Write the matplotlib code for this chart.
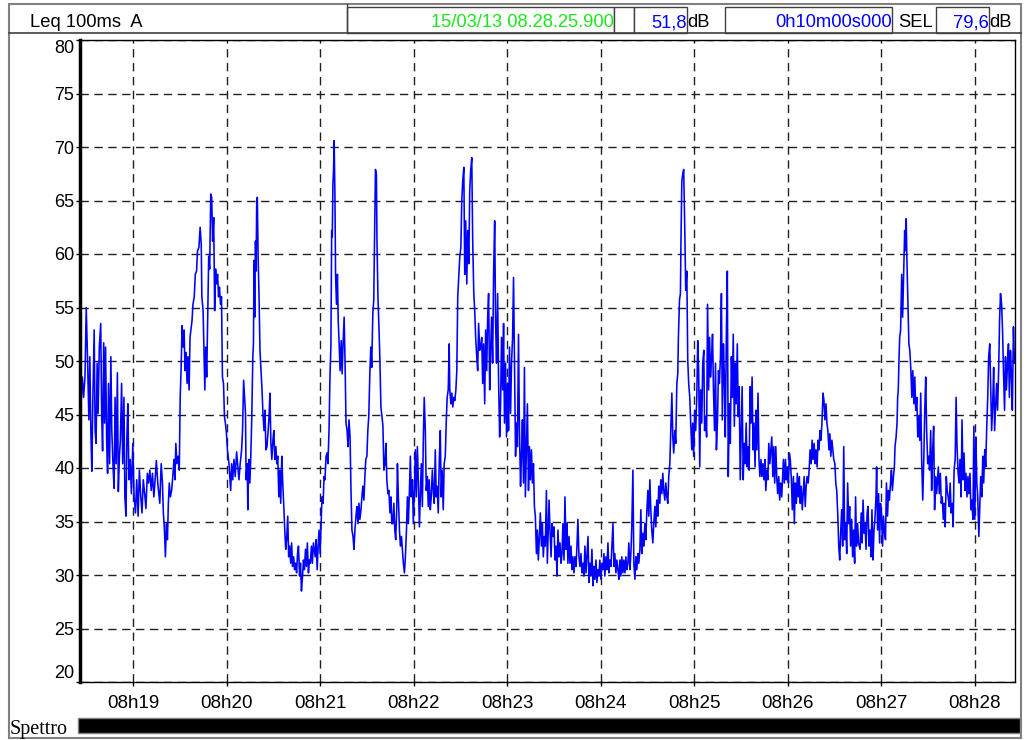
import matplotlib
matplotlib.use("Agg")
import matplotlib.pyplot as plt
from matplotlib.patches import Rectangle

# header values of the logger screen
title = "Leq 100ms  A"
end_stamp = "15/03/13 08.28.25.900"
leq_total = "51,8"
duration = "0h10m00s000"
sel_total = "79,6"
band_label = "Spettro"

# record start 08:18:25.9 -> seconds after 08h00
start_sec = 18 * 60 + 25.9
minute_labels = ["08h19", "08h20", "08h21", "08h22", "08h23",
                 "08h24", "08h25", "08h26", "08h27", "08h28"]
y_ticks = [20, 25, 30, 35, 40, 45, 50, 55, 60, 65, 70, 75, 80]

# (seconds from start, Leq dB(A))
readings = [
    (0.0, 44.2), (1.5, 48.5), (2.3, 46.6), (3.2, 48.5), (4.0, 55.0), (4.8, 50.4), (5.7, 44.5), (6.3, 50.4),
    (7.0, 43.2), (7.6, 39.7), (8.2, 46.0), (9.1, 52.9), (9.7, 43.5), (10.3, 42.3), (11.0, 49.8), (11.6, 45.1),
    (12.4, 51.3), (13.3, 53.5), (13.9, 45.1), (14.5, 41.6), (15.2, 51.7), (15.8, 44.2), (16.4, 51.3), (17.1, 42.6),
    (17.7, 39.5), (18.3, 47.9), (19.0, 40.4), (19.8, 50.4), (20.4, 43.5), (21.3, 39.8), (21.9, 38.1), (22.5, 46.6),
    (23.2, 40.4), (24.0, 48.9), (24.6, 37.8), (25.3, 41.1), (25.9, 42.6), (26.7, 47.9), (27.4, 40.4), (28.2, 46.6),
    (28.8, 37.3), (29.5, 35.5), (30.1, 42.9), (30.7, 46.0), (31.4, 38.9), (32.2, 40.8), (33.0, 37.6), (33.9, 42.3),
    (34.7, 37.3), (35.6, 35.8), (36.4, 38.9), (37.3, 35.5), (38.1, 39.8), (39.0, 37.3), (39.8, 35.8), (40.6, 38.9),
    (41.5, 37.6), (42.3, 36.2), (43.2, 39.5), (44.0, 38.6), (44.8, 39.8), (45.7, 37.9), (46.5, 39.5), (47.4, 37.3),
    (48.2, 38.9), (49.0, 40.7), (49.9, 38.6), (51.2, 36.7), (52.1, 40.4), (52.9, 38.6), (53.5, 35.8), (54.2, 34.2),
    (54.8, 31.7), (55.5, 34.8), (56.1, 33.3), (56.7, 36.7), (57.3, 38.6), (58.0, 37.3), (58.8, 37.9), (59.7, 39.5),
    (60.3, 40.8), (60.9, 38.9), (61.5, 42.3), (62.2, 40.4), (63.0, 41.1), (63.7, 39.8), (64.3, 46.6), (64.9, 49.4),
    (65.5, 53.3), (66.2, 51.3), (66.8, 52.9), (67.4, 49.1), (68.1, 50.8), (68.7, 47.9), (69.3, 50.4), (70.0, 47.3),
    (70.6, 52.2), (71.2, 52.9), (71.9, 53.8), (72.5, 55.3), (73.3, 56.0), (74.0, 58.1), (74.8, 58.4), (75.4, 60.3),
    (76.3, 60.6), (77.1, 62.5), (77.8, 60.9), (78.2, 56.0), (79.0, 54.7), (79.7, 49.8), (80.1, 47.3), (80.7, 51.3),
    (81.3, 48.5), (82.0, 54.7), (82.6, 59.8), (83.2, 58.6), (83.9, 65.6), (84.5, 65.3), (85.1, 61.2), (85.8, 63.4),
    (86.4, 54.7), (87.0, 58.6), (87.6, 57.2), (88.3, 58.1), (88.9, 56.0), (89.5, 56.9), (90.2, 55.3), (90.8, 56.0),
    (91.4, 48.5), (92.1, 47.9), (92.7, 44.8), (93.3, 44.2), (94.0, 43.2), (94.6, 41.7), (95.6, 40.4), (96.7, 37.9),
    (97.3, 40.4), (98.0, 38.9), (98.8, 40.8), (99.6, 39.2), (100.5, 41.5),
    (102.0, 38.9), (102.8, 40.4), (103.7, 41.7), (104.3, 43.5), (105.0, 48.2), (105.6, 46.6), (106.2, 45.1),
    (106.6, 38.9), (107.3, 40.4), (107.7, 36.1), (108.3, 40.8), (109.0, 38.6), (109.6, 41.1), (110.2, 44.5),
    (110.9, 50.4), (111.3, 51.6), (111.7, 59.4), (112.1, 54.1), (112.6, 61.2), (113.0, 58.4), (113.4, 65.0),
    (113.8, 65.3), (114.3, 59.7), (114.9, 56.0), (115.5, 51.0), (116.2, 49.1), (116.8, 47.3), (117.4, 45.1),
    (118.1, 43.5), (118.7, 45.4), (119.3, 41.7), (120.0, 42.0), (120.6, 43.2), (121.2, 44.5), (121.9, 47.0),
    (122.5, 42.3), (123.1, 40.8), (123.8, 42.6), (124.4, 43.5), (125.0, 40.8), (125.7, 42.0), (126.3, 40.4),
    (126.9, 41.1), (127.6, 37.3), (128.2, 39.8), (128.8, 36.7), (129.5, 41.1), (130.1, 38.6), (130.7, 36.7),
    (131.4, 34.2), (132.0, 32.4), (132.6, 33.3), (133.3, 35.5), (133.9, 31.7), (134.5, 32.7), (135.2, 31.1),
    (135.8, 33.0), (136.4, 30.8), (137.1, 31.7), (137.7, 30.5), (138.3, 31.1), (139.0, 30.2), (139.6, 32.0),
    (140.2, 32.7), (140.9, 29.9), (141.5, 31.1), (142.1, 28.5), (142.8, 29.9), (143.4, 31.4), (144.0, 30.5),
    (144.7, 32.4), (145.3, 30.8), (145.9, 33.0), (146.6, 30.2), (147.2, 31.4), (147.8, 31.1), (148.5, 32.7),
    (149.1, 31.1), (149.8, 33.0), (150.9, 31.7), (151.5, 33.3), (152.2, 30.5), (152.8, 32.7), (153.4, 34.2),
    (154.1, 32.0), (154.7, 34.8), (155.3, 37.3), (156.0, 36.7), (156.6, 39.2), (157.2, 38.9), (157.9, 41.1),
    (158.5, 41.4), (159.1, 40.4), (159.8, 43.5), (160.4, 48.5), (161.0, 51.3), (161.5, 62.2), (161.9, 61.6),
    (162.3, 66.5), (162.7, 67.8), (163.1, 70.6), (163.6, 65.3), (164.0, 58.1), (164.6, 55.3), (165.2, 58.1),
    (165.7, 53.8), (166.3, 51.6), (166.9, 49.1), (167.6, 51.9), (168.2, 48.8), (168.8, 51.6), (169.5, 54.1),
    (170.1, 49.8), (170.7, 44.2), (171.4, 43.5), (172.0, 42.0), (172.6, 44.5), (173.3, 42.9), (173.9, 37.9),
    (174.5, 34.2), (175.2, 33.6), (175.8, 32.4), (176.4, 34.2), (177.1, 35.5), (177.7, 36.4), (178.4, 34.8),
    (179.0, 36.7), (179.6, 35.2), (180.3, 36.1), (180.9, 37.3), (181.5, 38.3), (182.2, 37.0), (182.8, 39.2),
    (183.4, 40.8), (184.1, 41.1), (184.7, 43.5), (185.3, 44.8), (186.0, 48.8), (186.6, 51.3), (187.2, 49.4),
    (187.9, 54.4), (188.5, 55.7), (189.1, 62.8), (189.6, 67.9), (190.2, 67.4), (190.6, 60.9), (191.2, 56.0),
    (191.9, 52.9), (192.5, 49.8), (193.1, 45.7), (193.8, 44.8), (194.4, 43.9), (195.0, 39.8), (195.7, 40.4),
    (196.3, 42.3), (196.9, 38.9), (197.6, 37.6), (198.2, 37.9), (198.9, 35.8), (199.5, 37.3), (200.1, 34.8),
    (200.7, 34.8), (201.4, 36.7), (202.0, 34.2), (202.6, 33.3), (203.3, 36.4), (203.7, 40.4), (204.3, 37.3),
    (205.0, 34.2), (205.6, 32.7), (206.3, 33.6), (206.9, 32.4), (207.5, 31.1), (208.2, 30.2), (208.8, 31.7),
    (209.5, 34.2), (210.1, 37.3), (210.7, 34.8), (211.4, 37.9), (212.0, 41.1), (212.6, 37.3), (213.3, 38.9),
    (213.9, 34.8), (214.6, 37.9), (215.2, 41.7), (215.8, 37.3), (216.5, 42.0), (217.1, 38.9), (217.8, 34.5),
    (218.4, 37.3), (219.0, 40.4), (219.7, 36.4), (220.3, 42.6), (220.9, 46.6), (221.6, 43.5), (222.2, 37.9),
    (222.9, 39.2), (223.5, 36.4), (224.1, 38.9), (224.8, 36.1), (225.4, 37.3), (226.1, 39.8), (226.7, 37.9),
    (227.3, 36.7), (228.0, 41.7), (228.6, 37.3), (229.2, 38.3), (229.9, 35.8), (230.5, 40.4), (231.2, 43.5),
    (231.8, 37.3), (232.4, 39.8), (233.1, 36.1), (233.7, 40.4), (234.4, 41.1), (235.0, 44.2), (235.6, 46.6),
    (236.3, 47.3), (236.9, 51.6), (237.3, 47.3), (238.0, 46.0), (238.6, 47.0), (239.2, 45.7), (239.9, 46.6),
    (240.5, 46.3), (241.2, 47.3), (241.8, 49.1), (242.4, 56.0), (243.1, 58.1), (243.7, 59.7), (244.4, 60.6),
    (245.0, 65.0), (245.6, 66.8), (246.3, 68.1), (246.9, 58.1), (247.5, 63.1), (248.2, 57.2), (248.8, 62.2),
    (249.5, 59.1), (250.1, 65.9), (250.7, 67.8), (251.4, 69.0), (252.0, 61.2), (252.7, 56.3), (253.3, 54.7),
    (253.9, 52.2), (254.6, 50.4), (255.2, 49.1), (255.8, 53.5), (256.5, 51.0), (257.1, 51.3), (257.8, 52.2),
    (258.4, 47.9), (259.0, 51.6), (259.7, 46.0), (260.3, 52.9), (261.0, 49.1), (261.6, 54.1), (262.2, 56.3),
    (262.9, 47.3), (263.5, 51.0), (264.1, 54.1), (264.8, 49.8), (265.4, 58.1), (266.1, 63.1), (266.7, 53.5),
    (267.3, 49.8), (268.0, 56.3), (268.6, 48.2), (269.3, 42.9), (269.9, 46.0), (270.5, 52.2), (271.2, 47.3),
    (271.8, 53.5), (272.4, 44.2), (273.1, 49.8), (273.7, 42.9), (274.4, 47.9), (275.0, 43.5), (275.6, 51.3),
    (276.3, 45.1), (276.9, 49.8), (277.6, 52.2), (278.2, 57.8), (278.8, 49.8), (279.5, 41.1), (280.1, 44.2),
    (280.7, 42.0), (281.4, 52.5), (282.0, 43.5), (282.7, 38.3), (283.3, 41.1), (283.9, 44.5), (284.6, 38.6),
    (285.2, 49.4), (285.8, 37.3), (286.5, 42.0), (287.1, 46.0), (287.8, 37.9), (288.4, 42.0), (289.0, 38.9),
    (289.7, 41.7), (290.3, 38.6), (291.0, 40.4), (291.6, 36.4), (292.2, 35.5), (292.9, 32.0), (293.5, 34.2),
    (294.1, 31.4), (294.8, 33.6), (295.4, 35.8), (296.1, 32.7), (296.7, 34.8), (297.3, 31.7), (298.0, 33.6),
    (298.6, 32.7), (299.3, 37.9), (299.9, 31.1),
    (301.0, 37.0), (301.6, 34.2), (302.3, 31.7), (302.9, 34.8), (303.5, 33.6), (304.2, 34.5), (304.8, 31.4),
    (305.5, 32.7), (306.1, 29.9), (306.7, 34.2), (307.4, 31.7), (308.0, 33.0), (308.7, 31.1), (309.3, 32.0),
    (309.9, 34.8), (310.6, 31.4), (311.2, 37.3), (311.9, 32.4), (312.5, 34.8), (313.1, 31.1), (313.8, 33.6),
    (314.4, 31.1), (315.1, 32.7), (315.7, 30.5), (316.3, 31.7), (317.0, 30.2), (317.6, 31.7), (318.3, 30.8),
    (318.9, 32.7), (319.5, 35.2), (320.2, 31.7), (320.8, 30.8), (321.5, 32.0), (322.1, 30.2), (322.8, 31.1),
    (323.4, 29.9), (324.0, 32.7), (324.7, 30.2), (325.3, 31.7), (326.0, 33.6), (326.6, 29.3), (327.2, 31.1),
    (327.9, 29.9), (328.5, 32.4), (329.2, 29.0), (329.8, 30.8), (330.4, 29.6), (331.1, 31.4), (331.7, 29.3),
    (332.4, 30.5), (333.0, 29.9), (333.6, 31.4), (334.3, 29.6), (334.9, 31.1), (335.6, 30.5), (336.2, 32.0),
    (336.8, 29.9), (337.5, 31.7), (338.1, 30.5), (338.8, 33.0), (339.4, 30.2), (340.0, 31.4), (340.7, 30.8),
    (341.3, 32.7), (342.0, 34.8), (342.6, 30.8), (343.2, 32.0), (343.9, 30.2), (344.5, 31.4), (345.2, 30.5),
    (345.8, 29.6), (346.5, 31.4), (347.1, 29.9), (347.7, 31.7), (348.4, 30.2), (349.0, 31.4), (349.7, 30.2),
    (350.3, 31.7), (350.9, 30.5), (351.6, 31.1), (352.2, 33.0), (352.9, 30.5), (353.5, 32.0), (354.1, 34.5),
    (354.8, 39.8), (355.4, 31.1), (356.1, 29.6), (356.7, 31.7), (357.3, 30.5), (358.0, 32.0), (358.6, 31.1),
    (359.3, 32.4), (359.9, 36.1), (360.5, 32.0), (361.2, 33.9), (361.8, 32.7), (362.5, 34.8), (363.1, 33.3),
    (363.7, 35.8), (364.4, 37.9), (365.0, 35.5), (365.7, 38.9), (366.3, 36.1), (366.9, 34.2), (367.6, 33.0),
    (368.2, 34.8), (368.9, 36.4), (369.5, 34.5), (370.1, 37.0), (370.8, 35.5), (371.4, 38.3), (372.1, 36.7),
    (372.7, 38.9), (373.4, 37.6), (374.0, 39.5), (374.6, 37.9), (375.3, 37.0), (375.9, 38.6), (376.6, 37.3),
    (377.2, 36.7), (377.8, 39.2), (378.5, 40.4), (379.1, 43.5), (379.8, 47.0), (380.4, 42.9), (381.0, 41.4),
    (381.7, 43.5), (382.3, 42.3), (383.0, 47.9), (383.6, 48.8), (384.0, 52.2), (384.7, 55.7), (385.3, 56.3),
    (385.7, 61.8), (386.2, 66.8), (386.8, 67.5), (387.4, 67.9), (388.1, 62.2), (388.7, 56.6), (389.4, 58.4),
    (390.0, 50.1), (390.6, 47.9), (391.3, 46.6), (391.9, 44.2), (392.6, 41.7), (393.2, 44.2), (393.8, 41.1),
    (394.5, 45.4), (395.1, 43.5), (395.8, 46.6), (396.4, 51.9), (397.0, 49.1), (397.7, 40.1), (398.3, 47.3),
    (399.0, 44.2), (399.6, 49.8), (400.3, 51.0),
    (400.8, 43.5), (401.5, 44.8), (402.1, 42.9), (402.7, 55.3), (403.4, 47.3), (404.0, 52.2), (404.6, 48.5),
    (405.3, 50.4), (405.9, 52.5), (406.5, 47.3), (407.2, 43.5), (407.8, 49.8), (408.4, 41.7), (409.1, 44.5),
    (409.7, 49.1), (410.3, 47.9), (411.0, 50.4), (411.6, 56.3), (412.2, 44.5), (412.9, 51.6), (413.5, 48.5),
    (414.1, 42.9), (414.8, 52.9), (415.4, 58.4), (416.0, 39.2), (416.7, 46.0), (417.3, 42.3), (418.0, 50.4),
    (418.6, 46.6), (419.2, 52.5), (419.9, 43.9), (420.5, 49.8), (421.1, 46.0), (421.8, 51.6), (422.4, 44.8),
    (423.0, 47.6), (423.7, 38.9), (424.3, 43.5), (424.9, 47.6), (425.6, 38.9), (426.2, 42.3), (426.8, 40.4),
    (427.5, 44.2), (428.1, 40.1), (428.7, 42.0), (429.4, 39.8), (430.0, 47.6), (430.6, 44.2), (431.3, 48.5),
    (431.9, 41.7), (432.5, 44.2), (433.2, 40.1), (433.8, 45.4), (434.4, 41.7), (435.1, 47.0), (435.7, 40.8),
    (436.3, 39.2), (437.0, 40.8), (437.6, 39.2), (438.2, 40.4), (438.9, 38.9), (439.5, 40.8), (440.1, 37.9),
    (440.8, 39.8), (441.4, 38.9), (442.0, 42.3), (442.7, 40.4), (443.3, 41.7), (443.9, 42.9), (444.6, 39.2),
    (445.2, 42.0), (445.8, 38.6), (446.5, 42.0), (447.1, 39.2), (447.7, 37.6), (448.4, 39.2), (449.0, 37.0),
    (449.6, 38.6), (450.3, 37.3), (451.4, 40.8), (452.0, 38.6), (452.7, 40.8), (453.3, 38.9), (453.9, 40.1),
    (454.6, 38.6), (455.2, 41.4), (455.8, 40.8), (456.5, 38.9), (457.1, 36.1), (457.8, 39.2), (458.4, 34.8),
    (459.0, 38.6), (459.7, 36.7), (460.3, 39.5), (460.9, 37.3), (461.6, 39.2), (462.2, 36.7), (462.8, 38.3),
    (463.5, 36.1), (464.1, 37.6), (464.7, 39.2), (465.4, 36.4), (466.0, 38.3), (466.6, 39.2), (467.3, 38.6),
    (467.9, 39.8), (468.5, 41.7), (469.2, 40.4), (469.8, 42.6), (470.4, 40.8), (471.1, 42.3), (471.7, 40.4),
    (472.3, 41.7), (473.0, 40.1), (473.6, 42.6), (474.2, 41.7), (474.9, 43.5), (475.5, 42.6), (476.1, 44.2),
    (476.8, 47.0), (477.4, 46.3), (478.0, 44.5), (478.7, 46.0), (479.3, 44.2), (479.9, 43.5), (480.6, 41.7),
    (481.2, 43.2), (481.8, 41.1), (482.5, 42.6), (483.1, 41.7), (483.7, 40.8), (484.4, 40.4), (485.0, 38.6),
    (485.6, 37.9), (486.3, 35.5), (486.9, 32.7), (487.5, 31.4), (488.2, 34.2), (488.8, 36.1), (489.4, 32.7),
    (490.1, 42.0), (490.7, 33.3), (491.4, 34.8), (492.0, 32.0), (492.6, 38.6), (493.3, 34.8), (493.9, 36.4),
    (494.5, 32.7), (495.2, 35.2), (495.8, 31.7), (496.4, 34.2), (497.1, 31.1), (497.7, 37.3), (498.3, 32.7),
    (499.0, 34.8), (499.6, 33.0),
    (500.6, 32.4), (501.3, 35.8), (501.9, 33.0), (502.5, 37.0), (503.2, 33.9), (503.8, 34.8), (504.4, 32.4),
    (505.1, 35.8), (505.7, 36.4), (506.3, 32.7), (507.0, 34.2), (507.6, 31.7), (508.2, 36.1), (508.9, 31.4),
    (509.5, 34.2), (510.1, 35.2), (510.8, 37.3), (511.2, 40.1), (511.8, 34.2), (512.5, 37.6), (513.1, 33.0),
    (513.7, 36.7), (514.4, 35.5), (515.0, 32.7), (515.6, 35.5), (516.3, 33.9), (516.9, 33.3), (517.5, 38.6),
    (518.2, 35.5), (518.8, 37.9), (519.4, 37.0), (520.1, 38.6), (520.7, 39.8), (521.3, 37.9), (522.0, 39.2),
    (522.6, 40.1), (523.0, 42.0), (523.7, 42.9), (524.3, 44.2), (524.7, 46.6), (525.1, 47.3), (525.6, 50.4),
    (526.0, 52.2), (526.6, 52.9), (527.3, 58.1), (527.9, 54.1), (528.5, 57.8), (529.2, 62.2), (529.6, 60.3),
    (530.2, 63.3), (530.6, 59.7), (531.3, 55.3), (531.9, 51.6), (532.5, 51.0), (533.2, 49.1), (533.8, 46.6),
    (534.4, 49.1), (535.1, 46.0), (535.7, 48.5), (536.3, 45.4), (537.0, 46.6), (537.6, 42.9), (538.2, 44.8),
    (538.9, 42.6), (539.5, 47.0), (540.1, 40.8), (540.8, 37.0), (541.4, 40.4), (542.1, 45.4), (542.7, 48.5),
    (543.3, 43.5), (544.0, 40.4), (544.6, 41.1), (545.2, 39.8), (545.9, 43.5), (546.5, 37.9), (547.1, 41.4),
    (547.8, 43.9), (548.4, 36.1), (549.0, 39.2), (549.7, 37.6), (550.8, 40.1), (551.4, 37.6), (552.1, 39.5),
    (552.7, 36.7), (553.3, 37.3), (554.0, 35.2), (554.6, 36.7), (555.2, 34.5), (555.9, 39.2), (556.5, 37.9),
    (557.1, 37.3), (557.8, 36.4), (558.4, 38.6), (559.0, 35.8), (559.7, 36.7), (560.3, 34.5), (560.9, 39.8),
    (561.6, 40.8), (562.2, 46.6), (562.8, 42.0), (563.5, 39.5), (564.1, 38.6), (564.7, 40.8), (565.4, 37.3),
    (566.0, 44.5), (566.6, 38.9), (567.3, 41.4), (567.9, 37.9), (568.5, 39.5), (569.2, 37.3), (569.8, 39.2),
    (570.4, 37.6), (571.1, 39.5), (571.7, 36.1), (572.3, 37.0), (573.0, 35.2), (573.6, 43.9), (574.2, 35.2),
    (574.9, 42.9), (575.5, 38.6), (576.1, 37.3), (576.8, 33.6), (577.4, 36.4), (578.0, 39.2), (578.7, 37.3),
    (579.3, 41.1), (579.9, 38.6), (580.6, 41.7), (581.2, 40.1), (581.8, 43.5), (582.5, 46.6), (583.1, 50.4),
    (583.8, 51.6), (584.4, 47.3), (585.0, 43.5), (585.7, 46.0), (586.3, 49.4), (586.9, 43.5), (587.6, 46.0),
    (588.2, 47.9), (588.8, 45.4), (589.5, 49.1), (590.1, 53.8), (590.7, 56.3), (591.4, 55.3), (592.0, 52.9),
    (592.6, 49.1), (593.3, 45.4), (593.9, 50.4), (594.5, 47.3), (595.2, 49.8), (595.8, 51.6), (596.4, 46.6),
    (597.1, 51.0), (597.7, 48.8), (598.3, 45.4), (599.0, 53.2), (599.6, 49.8),
]

t_sec = [r[0] for r in readings]
leq_db = [r[1] for r in readings]

plt.rcParams["font.family"] = ["Liberation Sans", "DejaVu Sans"]
plt.rcParams["lines.scale_dashes"] = False

W, H = 1028, 740
fig = plt.figure(figsize=(W / 100, H / 100), dpi=100)
fig.patch.set_facecolor("white")

# frame / header drawn on a pixel-space overlay
deco = fig.add_axes([0, 0, 1, 1])
deco.set_xlim(0, W)
deco.set_ylim(H, 0)
deco.axis("off")

deco.add_patch(Rectangle((9, 4), 1012, 734, fill=False, ec="#808080", lw=1.5))
deco.plot([9, 1021], [33, 33], color="#404040", lw=1.2)
deco.plot([347, 347], [4, 33], color="#404040", lw=1.0)
for x0, x1 in [(347, 614), (614, 634), (634, 687), (725, 892), (936, 989)]:
    deco.add_patch(Rectangle((x0, 7), x1 - x0, 26, fc="white", ec="#404040", lw=1.0))

hdr = dict(fontsize=13.2, va="baseline")
deco.text(30, 27, title, ha="left", color="black", **hdr)
deco.text(614, 27, end_stamp, ha="right", color="#1ee61e", **hdr)
deco.text(687, 27, leq_total, ha="right", color="#0000ff", **hdr)
deco.text(687, 27, "dB", ha="left", color="black", **hdr)
deco.text(892, 27, duration, ha="right", color="#0000ff", **hdr)
deco.text(898, 27, "SEL", ha="left", color="black", **hdr)
deco.text(989, 27, sel_total, ha="right", color="#0000ff", **hdr)
deco.text(989, 27, "dB", ha="left", color="black", **hdr)

deco.add_patch(Rectangle((78, 718), 942, 15, fc="black", ec="#808080", lw=1.0))
deco.text(10, 734, band_label, ha="left", va="baseline", fontsize=14.5,
          family=["Liberation Serif", "DejaVu Serif"])

# main plot
ax = fig.add_axes([80 / W, (H - 682) / H, 935 / W, 642 / H])
ax.plot(t_sec, leq_db, color="#0000ff", lw=1.15)
ax.set_xlim(0, 600)
ax.set_ylim(20, 80)

minute_ticks = [(19 + i) * 60 - start_sec for i in range(len(minute_labels))]
ax.set_xticks(minute_ticks)
ax.set_xticklabels(minute_labels, fontsize=13.5)
ax.set_yticks(y_ticks)
ax.set_yticklabels([str(v) for v in y_ticks], fontsize=13)
ax.tick_params(axis="both", direction="out", length=3, width=1, color="black")
ax.tick_params(axis="x", pad=6)
ax.tick_params(axis="y", pad=1)
ylabels = ax.get_yticklabels()
ylabels[0].set_va("bottom")
ylabels[-1].set_va("top")

ax.grid(True, color="#202020", lw=1.0, linestyle=(0, (6, 4)))
ax.set_axisbelow(True)
for side in ["top", "right", "bottom"]:
    ax.spines[side].set_linewidth(1.0)
ax.spines["left"].set_linewidth(2.5)

fig.savefig("out.png", dpi=100, facecolor="white")
